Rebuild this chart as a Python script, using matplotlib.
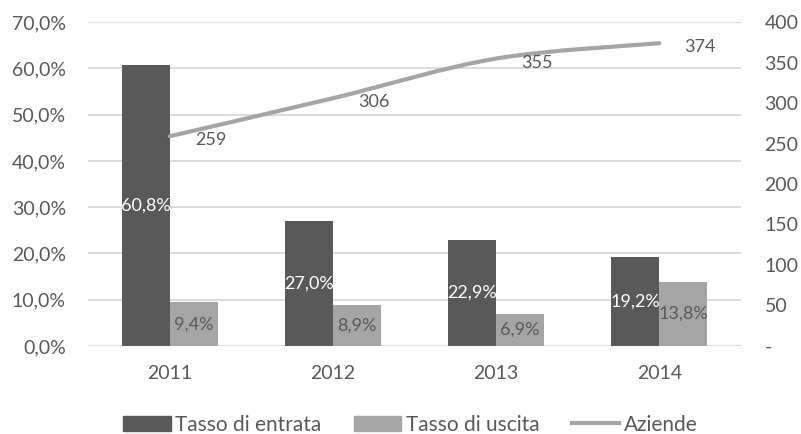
import matplotlib.pyplot as plt
import numpy as np
from matplotlib.path import Path
from matplotlib.patches import PathPatch
from matplotlib.lines import Line2D
from matplotlib.patches import Patch

plt.rcParams['font.family'] = ['Lato', 'DejaVu Sans']

anni = ['2011', '2012', '2013', '2014']
tasso_entrata = [60.8, 27.0, 22.9, 19.2]
tasso_uscita = [9.4, 8.9, 6.9, 13.8]
aziende = [259, 306, 355, 374]

scuro = '#595959'
chiaro = '#a5a5a5'
testo = '#595959'
griglia = '#d9d9d9'

fig = plt.figure(figsize=(8.01, 4.34), dpi=100)
ax = fig.add_axes([0.11, 0.203, 0.815, 0.746])
ax2 = ax.twinx()

x = np.arange(len(anni))
w = 0.294
fs = 13
fs_assi = 14

b1 = ax.bar(x - w / 2, tasso_entrata, w, color=scuro, zorder=2)
b2 = ax.bar(x + w / 2, tasso_uscita, w, color=chiaro, zorder=2)

for r, v in zip(b1, tasso_entrata):
    ax.text(r.get_x() + r.get_width() / 2, v / 2, f'{v:.1f}%'.replace('.', ','),
            ha='center', va='center', color='white', fontsize=fs, zorder=3)
for r, v in zip(b2, tasso_uscita):
    ax.text(r.get_x() + r.get_width() / 2, v / 2, f'{v:.1f}%'.replace('.', ','),
            ha='center', va='center', color=testo, fontsize=fs, zorder=3)

ax.set_xlim(-0.5, 3.5)
ax.set_ylim(0, 70)
ax.set_yticks(range(0, 71, 10))
ax.set_yticklabels([f'{v:.1f}%'.replace('.', ',') for v in range(0, 71, 10)])
ax.set_xticks(x)
ax.set_xticklabels(anni)
ax.yaxis.grid(True, color=griglia, lw=1.3, zorder=0)
ax.set_axisbelow(True)
ax.tick_params(length=0, colors=testo, labelsize=fs_assi)
ax.tick_params(axis='x', pad=14)
ax.tick_params(axis='y', pad=16)
for s in ax.spines.values():
    s.set_visible(False)

# linea smussata (curve di Bezier tra i punti)
ax2.set_ylim(0, 400)
ax2.set_xlim(-0.5, 3.5)
pts = np.column_stack([x, aziende]).astype(float)
verts = [pts[0]]
codes = [Path.MOVETO]
n = len(pts)
for i in range(n - 1):
    p0 = pts[i - 1] if i > 0 else pts[i]
    p1, p2 = pts[i], pts[i + 1]
    p3 = pts[i + 2] if i + 2 < n else pts[i + 1]
    c1 = p1 + (p2 - p0) / 6
    c2 = p2 - (p3 - p1) / 6
    verts += [c1, c2, p2]
    codes += [Path.CURVE4] * 3
ax2.add_patch(PathPatch(Path(verts, codes), fill=False, edgecolor=chiaro,
                        lw=3, capstyle='round', zorder=3))
for xi, v in zip(x, aziende):
    ax2.annotate(str(v), (xi, v), xytext=(18, -3), textcoords='offset points',
                 ha='left', va='center', color=testo, fontsize=fs)

ax2.set_yticks(range(0, 401, 50))
ax2.set_yticklabels(['-'] + [str(v) for v in range(50, 401, 50)])
ax2.tick_params(length=0, colors=testo, labelsize=fs_assi, pad=17)
for s in ax2.spines.values():
    s.set_visible(False)

handles = [Patch(color=scuro), Patch(color=chiaro),
           Line2D([0], [0], color=chiaro, lw=3)]
fig.legend(handles, ['Tasso di entrata', 'Tasso di uscita', 'Aziende'],
           loc='lower center', bbox_to_anchor=(0.512, -0.045), ncol=3,
           frameon=False, fontsize=15, labelcolor=testo,
           handlelength=2.3, handleheight=0.7, handletextpad=0.2,
           columnspacing=1.55)

fig.savefig('out.png', dpi=100)
